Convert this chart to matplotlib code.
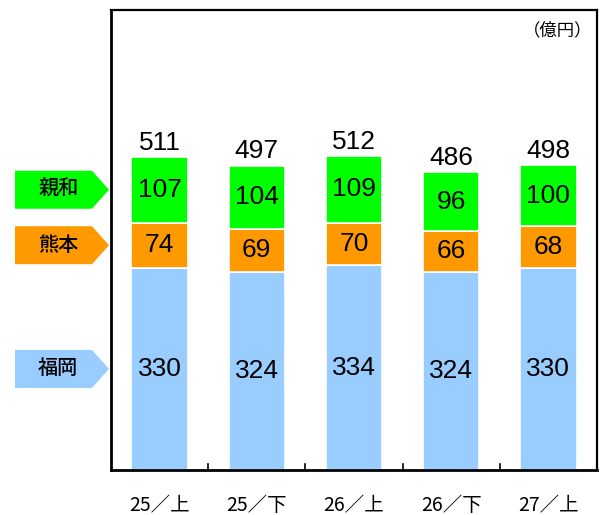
import matplotlib
matplotlib.use("Agg")
import matplotlib.pyplot as plt
import numpy as np
from matplotlib.patches import Polygon
from matplotlib.transforms import blended_transform_factory

plt.rcParams["font.family"] = ["Noto Sans CJK JP", "DejaVu Sans"]

PERIODS = ["25／上", "25／下", "26／上", "26／下", "27／上"]
FUKUOKA = [330, 324, 334, 324, 330]
KUMAMOTO = [74, 69, 70, 66, 68]
SHINWA = [107, 104, 109, 96, 100]
TOTALS = [511, 497, 512, 486, 498]
SERIES = [("福岡", FUKUOKA, "#99CCFF"), ("熊本", KUMAMOTO, "#FF9900"), ("親和", SHINWA, "#00FF00")]

fig = plt.figure(figsize=(6.04, 5.15), dpi=100)
ax = fig.add_axes([0.1838, 0.0874, 0.8046, 0.8932])
x = np.arange(len(PERIODS))
bottom = np.zeros(len(PERIODS))
for name, vals, color in SERIES:
    vals = np.array(vals, dtype=float)
    ax.bar(x, vals, bottom=bottom, width=0.58, color=color, edgecolor="white", linewidth=1.2)
    for xi, b, v in zip(x, bottom, vals):
        ax.text(xi, b + v / 2, f"{int(v)}", ha="center", va="center", fontsize=19,
                family="Liberation Sans")
    # left-hand label arrow centred on the first bar's segment
    yc = bottom[0] + vals[0] / 2
    tr = blended_transform_factory(fig.transFigure, ax.transData)
    h = 31
    x0, x1, x2 = 15 / 604, 92 / 604, 109 / 604
    poly = Polygon([(x0, yc - h), (x1, yc - h), (x2, yc), (x1, yc + h), (x0, yc + h)],
                   closed=True, transform=tr, facecolor=color, edgecolor="none", clip_on=False)
    fig.add_artist(poly)
    fig.text((x0 + x1) / 2 + 0.008, yc, name, transform=tr, ha="center", va="center",
             fontsize=14.5, weight="medium")
    bottom += vals

for xi, t in zip(x, TOTALS):
    ax.text(xi, t + 4, f"{t}", ha="center", va="bottom", fontsize=19, family="Liberation Sans")

ax.set_xlim(-0.5, len(PERIODS) - 0.5)
ax.set_ylim(0, 751)
ax.set_yticks([])
ax.set_xticks(x)
ax.set_xticklabels(PERIODS, fontsize=14)
ax.tick_params(axis="x", length=0, pad=18)
for b in x[:-1] + 0.5:
    ax.plot([b, b], [0, 10], color="black", linewidth=1.2, clip_on=False)
for s in ax.spines.values():
    s.set_linewidth(1.6)
ax.spines["left"].set_linewidth(2)
ax.spines["bottom"].set_linewidth(2)
ax.text(0.99, 0.975, "（億円）", transform=ax.transAxes, ha="right", va="top", fontsize=12.5)

fig.savefig("out.png", dpi=100)
